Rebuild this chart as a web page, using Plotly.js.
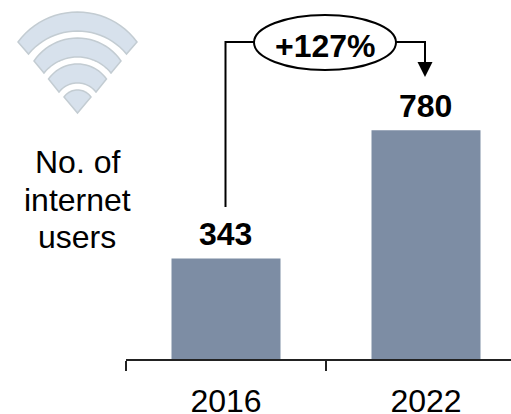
<!DOCTYPE html>
<html>
<head>
<meta charset="utf-8">
<script src="https://cdn.plot.ly/plotly-3.0.1.min.js"></script>
<style>html,body{margin:0;padding:0;background:#fff;overflow:hidden}</style>
</head>
<body>
<div id="chart" style="width:511px;height:414px"></div>
<script>
const categories = ['2016', '2022'];
const users = [343, 780];
const barLabels = ['343', '780'];
const growthLabel = '+127%';
const sideLabel = ['No. of', 'internet', 'users'];

const W = 511, H = 414, ML = 126, MB = 55;
const PW = W - ML, PH = H - MB;
const FONT = '"Liberation Sans", Arial, sans-serif';
const px = x => (x - ML) / PW;
const py = y => (PH - y) / PH;
const P = (x, y) => px(x) + ',' + py(y);
const CX = 77.5;

function arc(halfChord, endY, topY, reverse) {
  const sag = endY - topY;
  const r = (halfChord * halfChord + sag * sag) / (2 * sag);
  const cy = topY + r;
  const amax = Math.asin(halfChord / r);
  const pts = [];
  for (let i = 0; i <= 24; i++) {
    const a = -amax + 2 * amax * i / 24;
    pts.push(P(CX + r * Math.sin(a), cy - r * Math.cos(a)));
  }
  return reverse ? pts.reverse() : pts;
}
function band(oh, oy, ot, ih, iy, it) {
  return 'M' + arc(oh, oy, ot, false).concat(arc(ih, iy, it, true)).join(' L') + ' Z';
}
const iconStyle = {type: 'path', xref: 'paper', yref: 'paper', fillcolor: '#d7e1ec', line: {color: '#c3ccd2', width: 1.5}};
const icon = [
  band(59.5, 42, 12, 49, 54, 31),
  band(43.5, 61, 38, 33.5, 73, 57),
  band(29, 79, 64, 18.5, 92, 83),
  'M' + arc(13.5, 97, 90, false).join(' L') + ' L' + P(CX, 113) + ' Z'
].map(p => Object.assign({}, iconStyle, {path: p}));

const connector = [
  {type: 'path', xref: 'paper', yref: 'paper', layer: 'above', line: {color: '#000', width: 2},
   path: 'M' + P(225.5, 207) + ' L' + P(225.5, 42) + ' L' + P(254, 42)},
  {type: 'path', xref: 'paper', yref: 'paper', layer: 'above', line: {color: '#000', width: 2},
   path: 'M' + P(396, 42) + ' L' + P(425, 42) + ' L' + P(425, 63)},
  {type: 'path', xref: 'paper', yref: 'paper', layer: 'above', fillcolor: '#000', line: {color: '#000', width: 0},
   path: 'M' + P(417.5, 62) + ' L' + P(432.5, 62) + ' L' + P(425, 77) + ' Z'},
  {type: 'circle', xref: 'paper', yref: 'paper', layer: 'above', fillcolor: '#fff', line: {color: '#000', width: 2},
   x0: px(254), x1: px(396), y0: py(70), y1: py(15)}
];

const textAt = (text, x, y, size, bold) => ({
  text: bold ? '<b>' + text + '</b>' : text, xref: 'paper', yref: 'paper',
  x: px(x), y: py(y), xanchor: 'center', yanchor: 'middle', showarrow: false,
  font: {family: FONT, size: size, color: '#000'}
});

const annotations = [
  textAt(sideLabel[0], 77, 162, 32),
  textAt(sideLabel[1], 77, 199.5, 32),
  textAt(sideLabel[2], 77, 237, 32),
  textAt(growthLabel, 325, 46, 32, true)
];
categories.forEach((c, i) => annotations.push({
  text: '<b>' + barLabels[i] + '</b>', x: i, y: users[i], xref: 'x', yref: 'y',
  yanchor: 'bottom', xanchor: 'center', yshift: 4, xshift: -0.5, showarrow: false,
  font: {family: FONT, size: 32, color: '#000'}
}));

Plotly.newPlot('chart', [{
  type: 'bar', x: categories, y: users, width: 0.545,
  marker: {color: '#7d8da4', line: {width: 0}}, hoverinfo: 'skip'
}], {
  width: W, height: H, autosize: false,
  margin: {l: ML, r: 0, t: 0, b: MB, pad: 0},
  paper_bgcolor: '#fff', plot_bgcolor: '#fff', showlegend: false,
  xaxis: {
    type: 'category', range: [-0.5, -0.5 + PW / 200], tickson: 'boundaries',
    ticks: 'outside', ticklen: 10, tickwidth: 1.5, tickcolor: '#222',
    showline: true, linecolor: '#222', linewidth: 1.5, showgrid: false, zeroline: false,
    ticklabelstandoff: 13,
    tickfont: {family: FONT, size: 32, color: '#000'}, fixedrange: true
  },
  yaxis: {range: [0, PH * 3.41], visible: false, fixedrange: true},
  shapes: icon.concat(connector),
  annotations: annotations
}, {displayModeBar: false, staticPlot: true});
</script>
</body>
</html>
